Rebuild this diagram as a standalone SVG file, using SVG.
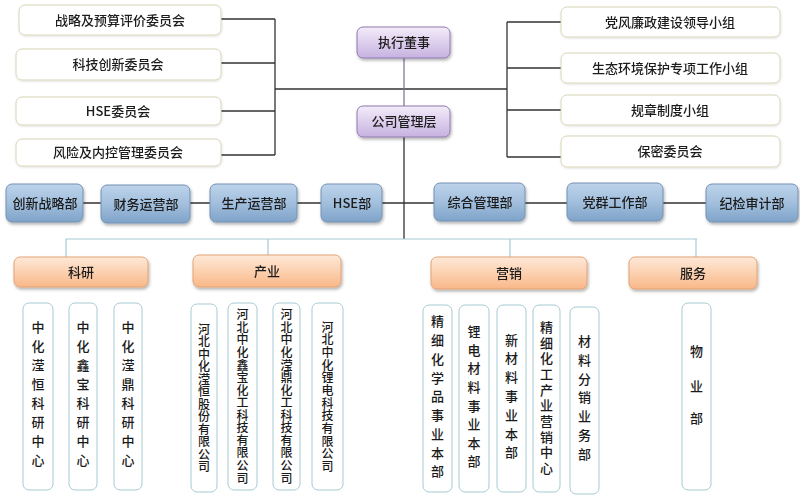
<svg xmlns="http://www.w3.org/2000/svg" width="800" height="496" viewBox="0 0 800 496">
<defs>
<linearGradient id="gPurple" x1="0" y1="0" x2="0" y2="1"><stop offset="0" stop-color="#f3ecfa"/><stop offset="1" stop-color="#c7b2e0"/></linearGradient>
<linearGradient id="gBlue" x1="0" y1="0" x2="0" y2="1"><stop offset="0" stop-color="#bdd3ea"/><stop offset="0.5" stop-color="#a2bfdd"/><stop offset="1" stop-color="#7fa3c9"/></linearGradient>
<linearGradient id="gOrange" x1="0" y1="0" x2="0" y2="1"><stop offset="0" stop-color="#fee9d8"/><stop offset="1" stop-color="#f9b888"/></linearGradient>
<filter id="sh" x="-10%" y="-20%" width="125%" height="150%"><feDropShadow dx="1" dy="2" stdDeviation="1.5" flood-color="#000" flood-opacity="0.3"/></filter>
<filter id="shL" x="-10%" y="-20%" width="125%" height="150%"><feDropShadow dx="0.5" dy="1" stdDeviation="1" flood-color="#000" flood-opacity="0.12"/></filter>
</defs>
<style>
text{font-family:"Noto Sans CJK SC","Liberation Serif",serif;font-size:13px;fill:#1a1a1a;text-anchor:middle;font-weight:500}
.v{font-size:13px}
.vs{font-size:12px}
.com{fill:#fff;stroke:#d9d6b6;stroke-width:1}
.grp{fill:#fff;stroke:#d9d6b6;stroke-width:1}
.exe{fill:url(#gPurple);stroke:#8f7aad;stroke-width:1}
.dep{fill:url(#gBlue);stroke:#7391b3;stroke-width:1}
.cat{fill:url(#gOrange);stroke:#e3a274;stroke-width:1}
.unit{fill:#fff;stroke:#a6cbd3;stroke-width:1}
.ln{stroke:#333;stroke-width:1.3;fill:none}
.lp{stroke:#7d6a99;stroke-width:1.2;fill:none}
.lb{stroke:#a6cbd3;stroke-width:1.2;fill:none}
</style>
<rect width="800" height="496" fill="#fff"/>
<g id="connectors">
<path class="ln" d="M221 19H275M221 63H275M221 111H275M221 155H275M275 19V155M275 89H507"/>
<path class="ln" d="M507 22V157M507 22H561M507 68H561M507 110H561M507 157H561"/>
<path class="lp" d="M404 58V106"/>
<path class="ln" d="M404 137V239M83 203H706"/>
<path class="lb" d="M66 239H697M66 239V257M268 239V255M510 239V257M696 239V257"/>
</g>
<g id="n-zhanlue" filter="url(#shL)"><rect class="com" x="19" y="5" width="202" height="30" rx="6"/><text x="120" y="25">战略及预算评价委员会</text></g>
<g id="n-keji" filter="url(#shL)"><rect class="com" x="16" y="49" width="205" height="31" rx="6"/><text x="118" y="69">科技创新委员会</text></g>
<g id="n-hsewyh" filter="url(#shL)"><rect class="com" x="16" y="97" width="205" height="28" rx="6"/><text x="118" y="116">HSE委员会</text></g>
<g id="n-fengxian" filter="url(#shL)"><rect class="com" x="16" y="139" width="205" height="27" rx="6"/><text x="118" y="157">风险及内控管理委员会</text></g>
<g id="n-dangfeng" filter="url(#shL)"><rect class="grp" x="561" y="7" width="219" height="30" rx="6"/><text x="670" y="27">党风廉政建设领导小组</text></g>
<g id="n-shengtai" filter="url(#shL)"><rect class="grp" x="561" y="53" width="219" height="30" rx="6"/><text x="670" y="73">生态环境保护专项工作小组</text></g>
<g id="n-guizhang" filter="url(#shL)"><rect class="grp" x="561" y="95" width="219" height="30" rx="6"/><text x="670" y="115">规章制度小组</text></g>
<g id="n-baomi" filter="url(#shL)"><rect class="grp" x="561" y="136" width="219" height="31" rx="6"/><text x="670" y="156">保密委员会</text></g>
<g id="n-zhixing" filter="url(#sh)"><rect class="exe" x="357" y="27" width="93" height="31" rx="6"/><text x="404" y="47">执行董事</text></g>
<g id="n-guanli" filter="url(#sh)"><rect class="exe" x="357" y="106" width="93" height="31" rx="6"/><text x="404" y="126">公司管理层</text></g>
<g id="n-chuangxin" filter="url(#sh)"><rect class="dep" x="6" y="184" width="77" height="38" rx="6"/><text x="45" y="208">创新战略部</text></g>
<g id="n-caiwu" filter="url(#sh)"><rect class="dep" x="101" y="185" width="89" height="38" rx="6"/><text x="146" y="209">财务运营部</text></g>
<g id="n-shengchan" filter="url(#sh)"><rect class="dep" x="210" y="184" width="87" height="38" rx="6"/><text x="254" y="208">生产运营部</text></g>
<g id="n-hse" filter="url(#sh)"><rect class="dep" x="321" y="184" width="61" height="38" rx="6"/><text x="352" y="208">HSE部</text></g>
<g id="n-zonghe" filter="url(#sh)"><rect class="dep" x="434" y="183" width="91" height="38" rx="6"/><text x="480" y="207">综合管理部</text></g>
<g id="n-dangqun" filter="url(#sh)"><rect class="dep" x="567" y="183" width="96" height="38" rx="6"/><text x="615" y="207">党群工作部</text></g>
<g id="n-jijian" filter="url(#sh)"><rect class="dep" x="706" y="184" width="92" height="38" rx="6"/><text x="752" y="208">纪检审计部</text></g>
<g id="n-keyan" filter="url(#sh)"><rect class="cat" x="14" y="257" width="134" height="30" rx="6"/><text x="81" y="277">科研</text></g>
<g id="n-chanye" filter="url(#sh)"><rect class="cat" x="193" y="255" width="148" height="32" rx="6"/><text x="267" y="276">产业</text></g>
<g id="n-yingxiao" filter="url(#sh)"><rect class="cat" x="431" y="257" width="156" height="32" rx="6"/><text x="509" y="278">营销</text></g>
<g id="n-fuwu" filter="url(#sh)"><rect class="cat" x="629" y="257" width="128" height="32" rx="6"/><text x="693" y="278">服务</text></g>
<g id="n-yh-keyan"><rect class="unit" x="23" y="303" width="30" height="187" rx="6"/><text class="v" x="38"><tspan x="38" y="332">中</tspan><tspan x="38" y="351">化</tspan><tspan x="38" y="370">滢</tspan><tspan x="38" y="389">恒</tspan><tspan x="38" y="408">科</tspan><tspan x="38" y="427">研</tspan><tspan x="38" y="446">中</tspan><tspan x="38" y="465">心</tspan></text></g>
<g id="n-xb-keyan"><rect class="unit" x="69" y="303" width="28" height="187" rx="6"/><text class="v" x="83"><tspan x="83" y="332">中</tspan><tspan x="83" y="351">化</tspan><tspan x="83" y="370">鑫</tspan><tspan x="83" y="389">宝</tspan><tspan x="83" y="408">科</tspan><tspan x="83" y="427">研</tspan><tspan x="83" y="446">中</tspan><tspan x="83" y="465">心</tspan></text></g>
<g id="n-yd-keyan"><rect class="unit" x="114" y="303" width="28" height="187" rx="6"/><text class="v" x="128"><tspan x="128" y="332">中</tspan><tspan x="128" y="351">化</tspan><tspan x="128" y="370">滢</tspan><tspan x="128" y="389">鼎</tspan><tspan x="128" y="408">科</tspan><tspan x="128" y="427">研</tspan><tspan x="128" y="446">中</tspan><tspan x="128" y="465">心</tspan></text></g>
<g id="n-yh-gufen"><rect class="unit" x="191" y="304" width="26" height="188" rx="6"/><text class="vs" x="204"><tspan x="204" y="333.5">河</tspan><tspan x="204" y="346">北</tspan><tspan x="204" y="358.5">中</tspan><tspan x="204" y="371">化</tspan><tspan x="204" y="383.5">滢</tspan><tspan x="204" y="396">恒</tspan><tspan x="204" y="408.5">股</tspan><tspan x="204" y="421">份</tspan><tspan x="204" y="433.5">有</tspan><tspan x="204" y="446">限</tspan><tspan x="204" y="458.5">公</tspan><tspan x="204" y="471">司</tspan></text></g>
<g id="n-xb-huagong"><rect class="unit" x="228" y="303" width="29" height="187" rx="6"/><text class="vs" x="242.5"><tspan x="242.5" y="319.3">河</tspan><tspan x="242.5" y="331.9">北</tspan><tspan x="242.5" y="344.4">中</tspan><tspan x="242.5" y="357">化</tspan><tspan x="242.5" y="369.5">鑫</tspan><tspan x="242.5" y="382.1">宝</tspan><tspan x="242.5" y="394.6">化</tspan><tspan x="242.5" y="407.2">工</tspan><tspan x="242.5" y="419.7">科</tspan><tspan x="242.5" y="432.3">技</tspan><tspan x="242.5" y="444.8">有</tspan><tspan x="242.5" y="457.4">限</tspan><tspan x="242.5" y="469.9">公</tspan><tspan x="242.5" y="482.5">司</tspan></text></g>
<g id="n-yd-huagong"><rect class="unit" x="273" y="303" width="27" height="187" rx="6"/><text class="vs" x="286.5"><tspan x="286.5" y="319.3">河</tspan><tspan x="286.5" y="331.9">北</tspan><tspan x="286.5" y="344.4">中</tspan><tspan x="286.5" y="357">化</tspan><tspan x="286.5" y="369.5">滢</tspan><tspan x="286.5" y="382.1">鼎</tspan><tspan x="286.5" y="394.6">化</tspan><tspan x="286.5" y="407.2">工</tspan><tspan x="286.5" y="419.7">科</tspan><tspan x="286.5" y="432.3">技</tspan><tspan x="286.5" y="444.8">有</tspan><tspan x="286.5" y="457.4">限</tspan><tspan x="286.5" y="469.9">公</tspan><tspan x="286.5" y="482.5">司</tspan></text></g>
<g id="n-lidian"><rect class="unit" x="312" y="303" width="31" height="187" rx="6"/><text class="vs" x="327.5"><tspan x="327.5" y="331.5">河</tspan><tspan x="327.5" y="344.2">北</tspan><tspan x="327.5" y="356.8">中</tspan><tspan x="327.5" y="369.5">化</tspan><tspan x="327.5" y="382.2">锂</tspan><tspan x="327.5" y="394.8">电</tspan><tspan x="327.5" y="407.5">科</tspan><tspan x="327.5" y="420.2">技</tspan><tspan x="327.5" y="432.8">有</tspan><tspan x="327.5" y="445.5">限</tspan><tspan x="327.5" y="458.2">公</tspan><tspan x="327.5" y="470.8">司</tspan></text></g>
<g id="n-jingxi"><rect class="unit" x="423" y="305" width="29" height="187" rx="6"/><text class="v" x="437.5"><tspan x="437.5" y="326.2">精</tspan><tspan x="437.5" y="345">细</tspan><tspan x="437.5" y="363.7">化</tspan><tspan x="437.5" y="382.5">学</tspan><tspan x="437.5" y="401.2">品</tspan><tspan x="437.5" y="420">事</tspan><tspan x="437.5" y="438.7">业</tspan><tspan x="437.5" y="457.5">本</tspan><tspan x="437.5" y="476.2">部</tspan></text></g>
<g id="n-lidiancl"><rect class="unit" x="459" y="305" width="30" height="187" rx="6"/><text class="v" x="474"><tspan x="474" y="336.2">锂</tspan><tspan x="474" y="354.8">电</tspan><tspan x="474" y="373.4">材</tspan><tspan x="474" y="392">料</tspan><tspan x="474" y="410.5">事</tspan><tspan x="474" y="429.1">业</tspan><tspan x="474" y="447.7">本</tspan><tspan x="474" y="466.2">部</tspan></text></g>
<g id="n-xincailiao"><rect class="unit" x="497" y="305" width="29" height="187" rx="6"/><text class="v" x="511.5"><tspan x="511.5" y="344.5">新</tspan><tspan x="511.5" y="363.3">材</tspan><tspan x="511.5" y="382.1">料</tspan><tspan x="511.5" y="400.9">事</tspan><tspan x="511.5" y="419.7">业</tspan><tspan x="511.5" y="438.5">本</tspan><tspan x="511.5" y="457.2">部</tspan></text></g>
<g id="n-jingxihg"><rect class="unit" x="533" y="305" width="27" height="187" rx="6"/><text class="v" x="546.5"><tspan x="546.5" y="331.8">精</tspan><tspan x="546.5" y="347.5">细</tspan><tspan x="546.5" y="363.1">化</tspan><tspan x="546.5" y="378.8">工</tspan><tspan x="546.5" y="394.5">产</tspan><tspan x="546.5" y="410.2">业</tspan><tspan x="546.5" y="425.8">营</tspan><tspan x="546.5" y="441.5">销</tspan><tspan x="546.5" y="457.2">中</tspan><tspan x="546.5" y="472.8">心</tspan></text></g>
<g id="n-fenxiao"><rect class="unit" x="570" y="307" width="29" height="187" rx="6"/><text class="v" x="584.5"><tspan x="584.5" y="346.2">材</tspan><tspan x="584.5" y="364.9">料</tspan><tspan x="584.5" y="383.6">分</tspan><tspan x="584.5" y="402.3">销</tspan><tspan x="584.5" y="421">业</tspan><tspan x="584.5" y="439.7">务</tspan><tspan x="584.5" y="458.5">部</tspan></text></g>
<g id="n-wuye"><rect class="unit" x="682" y="303" width="29" height="187" rx="6"/><text class="v" x="696.5"><tspan x="696.5" y="356.2">物</tspan><tspan x="696.5" y="391.2">业</tspan><tspan x="696.5" y="422.8">部</tspan></text></g>
</svg>
